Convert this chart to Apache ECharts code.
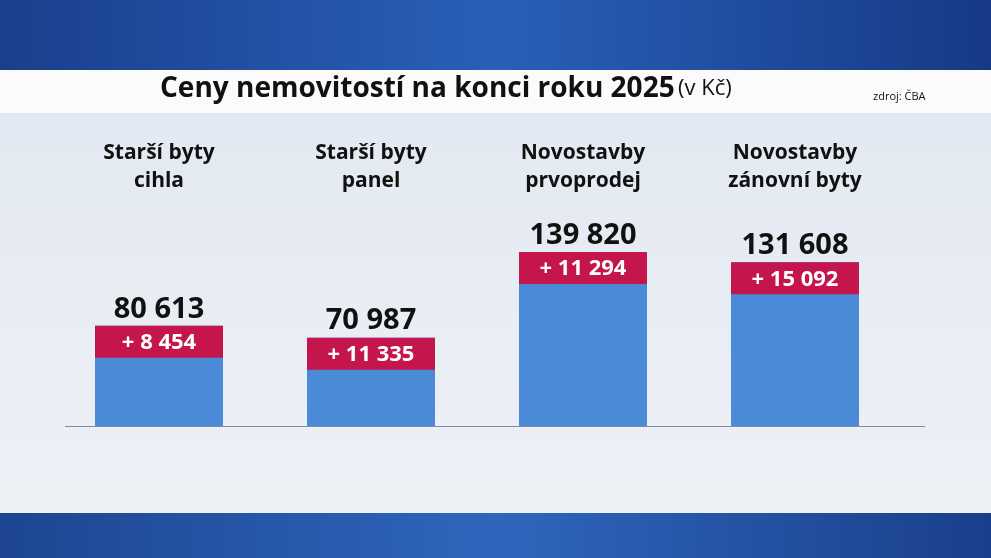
<!DOCTYPE html>
<html><head><meta charset="utf-8">
<script src="https://cdn.jsdelivr.net/npm/echarts@6/dist/echarts.min.js"></script>
<style>html,body{margin:0;padding:0}#c{width:991px;height:558px}</style>
</head><body><div id="c"></div>
<script>
var categories = ['Starší byty\ncihla', 'Starší byty\npanel', 'Novostavby\nprvoprodej', 'Novostavby\nzánovní byty'];
var prices = [80613, 70987, 139820, 131608];
var changes = [8454, 11335, 11294, 15092];

function fmt(n) { return String(n).replace(/\B(?=(\d{3})+(?!\d))/g, '\u00a0'); }

var chart = echarts.init(document.getElementById('c'));
var font = '"Open Sans", "Noto Sans", sans-serif';
chart.setOption({
  animation: false,
  graphic: [
    { type: 'rect', z: -10, shape: { x: 0, y: 0, width: 991, height: 70 },
      style: { fill: new echarts.graphic.LinearGradient(0, 0, 1, 0, [
        { offset: 0, color: '#1a3f8c' }, { offset: 0.5, color: '#2a5fb8' }, { offset: 1, color: '#163a85' }]) } },
    { type: 'rect', z: -10, shape: { x: 0, y: 70, width: 991, height: 43 }, style: { fill: '#fbfbfc' } },
    { type: 'rect', z: -10, shape: { x: 0, y: 113, width: 991, height: 400 },
      style: { fill: new echarts.graphic.LinearGradient(0, 0, 0, 1, [
        { offset: 0, color: '#e3e9f2' }, { offset: 1, color: '#eef1f6' }]) } },
    { type: 'rect', z: -10, shape: { x: 0, y: 513, width: 991, height: 45 },
      style: { fill: new echarts.graphic.LinearGradient(0, 0, 1, 0, [
        { offset: 0, color: '#1d4590' }, { offset: 0.5, color: '#2f66bd' }, { offset: 1, color: '#1a3f8a' }]) } },
    { type: 'rect', z: -5, shape: { x: 65, y: 426, width: 860, height: 1 }, style: { fill: '#7f8ea3' } },
    { type: 'text', left: 160, top: 75,
      style: { rich: { a: { fontSize: 28, fontWeight: 'bold', fill: '#111', fontFamily: font },
                       b: { fontSize: 22, fill: '#111', fontFamily: font } },
               text: '{a|Ceny nemovitostí na konci roku 2025} {b|(v Kč)}' } },
    { type: 'text', left: 873, top: 91, style: { text: 'zdroj: ČBA', fontSize: 11, fill: '#111', fontFamily: font } }
  ],
  grid: { left: 53, width: 848, top: 227, bottom: 132 },
  xAxis: {
    type: 'category', data: categories, position: 'top',
    axisLine: { show: false }, axisTick: { show: false },
    axisLabel: { margin: 32, fontSize: 21, fontWeight: 'bold', color: '#111', lineHeight: 28, fontFamily: font }
  },
  yAxis: { type: 'value', min: 0, max: 160000, show: false },
  series: [{
    type: 'bar', data: prices, barWidth: 128,
    itemStyle: { color: '#4a8ad6' },
    label: { show: true, position: 'insideTop', distance: 0,
      formatter: function (p) { return '+ ' + fmt(changes[p.dataIndex]); },
      backgroundColor: '#c4164d', width: 128, height: 32, lineHeight: 34, align: 'center',
      color: '#fff', fontSize: 22, fontWeight: 'bold', fontFamily: font }
  }, {
    type: 'bar', data: prices, barWidth: 128, barGap: '-100%',
    itemStyle: { color: 'transparent' },
    label: { show: true, position: 'top', distance: 2,
      formatter: function (p) { return fmt(p.value); },
      color: '#111', fontSize: 29, fontWeight: 'bold', fontFamily: font }
  }]
});
</script></body></html>
